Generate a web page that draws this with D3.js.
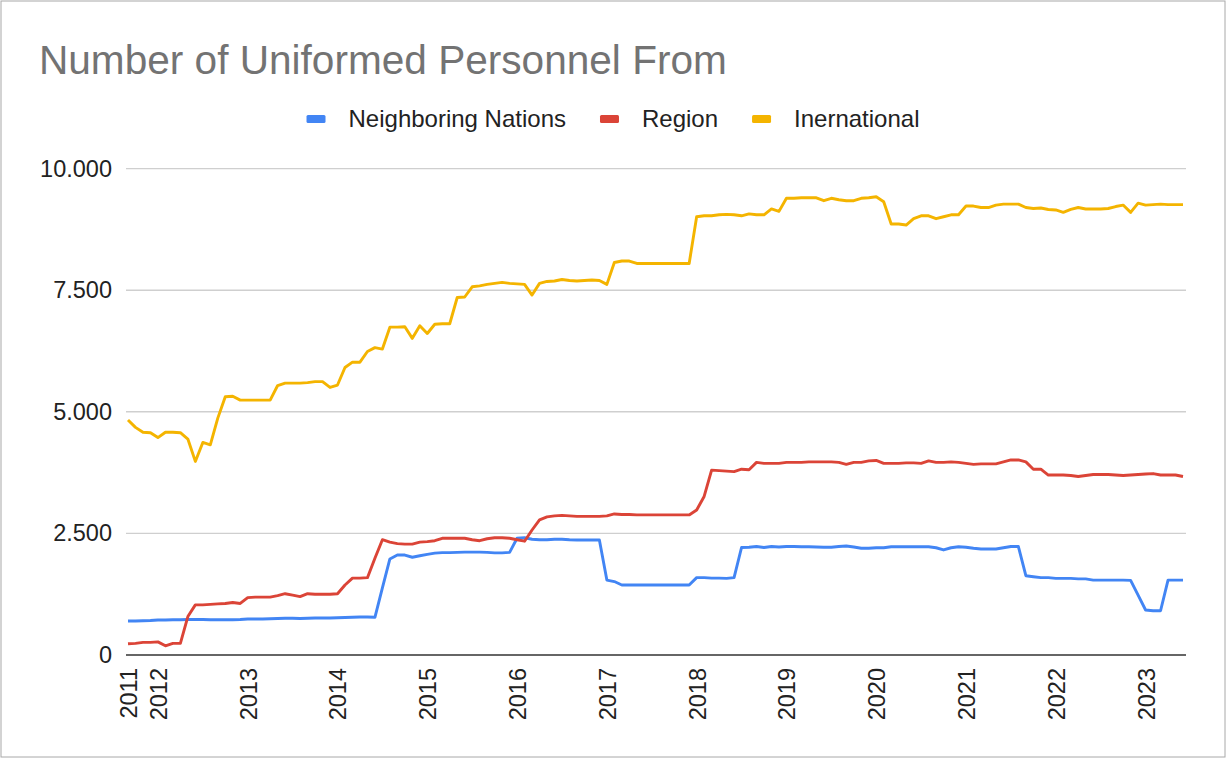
<!DOCTYPE html>
<html>
<head>
<meta charset="utf-8">
<script src="https://cdn.jsdelivr.net/npm/d3@7"></script>
<style>
  body { margin: 0; background: #fff; }
  text { font-family: "Liberation Sans", Arial, sans-serif; }
</style>
</head>
<body>
<div id="container"></div>
<script>
// monthly observations, Sep 2011 .. Jun 2023
const months = d3.timeMonth.range(new Date(2011, 8, 1), new Date(2023, 6, 1)).map(d3.timeFormat("%Y-%m"))

const seriesNames = ["Neighboring Nations", "Region", "Inernational"]
const seriesColors = ["#4285f4", "#db4437", "#f4b400"]

const neighboring = [
  700, 700, 705, 710, 720, 720, 725, 725, 730, 730, 730, 725, 725, 725, 725, 730,
  740, 740, 740, 745, 750, 755, 755, 750, 755, 760, 760, 760, 765, 770, 775, 780,
  780, 775, 1380, 1975, 2055, 2055, 2010, 2040, 2070, 2095, 2105, 2105, 2110, 2115, 2115, 2115,
  2110, 2100, 2100, 2110, 2400, 2410, 2380, 2370, 2370, 2380, 2380, 2370, 2365, 2365, 2365, 2365,
  1540, 1510, 1440, 1440, 1440, 1440, 1440, 1440, 1440, 1440, 1440, 1440, 1590, 1590, 1580, 1580,
  1575, 1590, 2210, 2215, 2230, 2210, 2230, 2220, 2230, 2230, 2225, 2225, 2220, 2215, 2215, 2230,
  2240, 2220, 2195, 2195, 2205, 2205, 2225, 2225, 2225, 2225, 2225, 2225, 2205, 2160, 2205, 2225,
  2215, 2195, 2180, 2180, 2180, 2205, 2230, 2230, 1630, 1610, 1590, 1590, 1575, 1575, 1575, 1565,
  1565, 1540, 1540, 1540, 1540, 1540, 1535, 1230, 925, 910, 910, 1540, 1540, 1540
]

const region = [
  230, 240, 260, 260, 270, 190, 240, 240, 790, 1030, 1030, 1040, 1050, 1060, 1080, 1060,
  1180, 1190, 1190, 1190, 1220, 1260, 1230, 1200, 1260, 1250, 1250, 1250, 1260, 1440, 1580, 1580,
  1590, 1990, 2370, 2320, 2290, 2280, 2280, 2320, 2330, 2350, 2400, 2400, 2400, 2400, 2370, 2350,
  2390, 2410, 2410, 2400, 2370, 2340, 2570, 2780, 2840, 2860, 2870, 2860, 2850, 2850, 2850, 2850,
  2860, 2900, 2890, 2890, 2880, 2880, 2880, 2880, 2880, 2880, 2880, 2880, 2980, 3260, 3800, 3790,
  3780, 3770, 3820, 3810, 3960, 3940, 3940, 3940, 3960, 3960, 3960, 3970, 3970, 3970, 3970, 3960,
  3920, 3960, 3960, 3990, 4000, 3940, 3940, 3940, 3950, 3950, 3940, 3990, 3960, 3960, 3970, 3960,
  3940, 3920, 3930, 3930, 3930, 3970, 4010, 4010, 3970, 3820, 3820, 3700, 3700, 3700, 3690, 3670,
  3690, 3710, 3710, 3710, 3700, 3690, 3700, 3710, 3720, 3730, 3700, 3700, 3700, 3670
]

const international = [
  4830, 4680, 4580, 4570, 4470, 4580, 4580, 4570, 4440, 3980, 4370, 4320, 4870, 5310, 5320, 5240,
  5240, 5240, 5240, 5240, 5540, 5590, 5590, 5590, 5600, 5620, 5620, 5500, 5550, 5910, 6020, 6020,
  6240, 6320, 6290, 6740, 6740, 6750, 6510, 6770, 6610, 6800, 6810, 6810, 7350, 7360, 7570, 7590,
  7620, 7640, 7660, 7640, 7630, 7620, 7400, 7640, 7680, 7690, 7720, 7700, 7690, 7700, 7710, 7700,
  7620, 8070, 8100, 8100, 8050, 8050, 8050, 8050, 8050, 8050, 8050, 8050, 9010, 9030, 9030, 9050,
  9060, 9050, 9030, 9070, 9050, 9050, 9170, 9120, 9390, 9390, 9400, 9400, 9400, 9340, 9390, 9360,
  9340, 9340, 9390, 9400, 9420, 9320, 8860, 8860, 8840, 8970, 9030, 9030, 8970, 9010, 9050, 9050,
  9230, 9230, 9200, 9200, 9250, 9270, 9270, 9270, 9200, 9180, 9190, 9160, 9150, 9100, 9160, 9200,
  9170, 9170, 9170, 9180, 9220, 9250, 9100, 9290, 9250, 9260, 9270, 9260, 9260, 9260
]

const yTicks = [0, 2500, 5000, 7500, 10000]
const xTicks = ["2011-09", "2012-01", "2013-01", "2014-01", "2015-01", "2016-01", "2017-01",
  "2018-01", "2019-01", "2020-01", "2021-01", "2022-01", "2023-01"]

const width = 1227
const height = 760
const plot = { left: 126, right: 1186, top: 168.6, bottom: 655 }

const fmt = d3.formatLocale({ decimal: ",", thousands: ".", grouping: [3], currency: ["", ""] }).format(",")

const xScale = d3.scalePoint(months, [128, 1183])
const yScale = d3.scaleLinear([0, 10000], [plot.bottom, plot.top])

const svg = d3.select('#container')
  .append('svg')
  .attr('width', width)
  .attr('height', height)
  .attr('viewBox', [0, 0, width, height])

svg.append('rect')
  .attr('x', 1).attr('y', 1)
  .attr('width', 1224).attr('height', 756)
  .attr('fill', '#fff')
  .attr('stroke', '#a8a8a8')

svg.append('text')
  .attr('x', 39)
  .attr('y', 74)
  .attr('font-size', 40.6)
  .attr('fill', '#737373')
  .text('Number of Uniformed Personnel From')

// legend, centered
const legend = svg.append('g')
const items = legend.selectAll('g')
  .data(seriesNames)
  .join('g')
items.append('rect')
  .attr('width', 19).attr('height', 8)
  .attr('y', -4).attr('rx', 1.5)
  .attr('fill', (d, i) => seriesColors[i])
items.append('text')
  .attr('x', 42)
  .attr('dy', '0.35em')
  .attr('font-size', 24)
  .attr('fill', '#222')
  .text(d => d)
let pos = 0
items.each(function () {
  d3.select(this).attr('transform', `translate(${pos},0)`)
  pos += 42 + this.querySelector('text').getComputedTextLength() + 34
})
pos -= 34
legend.attr('transform', `translate(${613 - pos / 2}, 119)`)

// gridlines
svg.append('g')
  .selectAll('line')
  .data(yTicks.filter(d => d > 0))
  .join('line')
  .attr('x1', plot.left).attr('x2', plot.right)
  .attr('y1', d => yScale(d)).attr('y2', d => yScale(d))
  .attr('stroke', '#cfcfcf')
  .attr('stroke-width', 1.4)

svg.append('g')
  .attr('transform', `translate(${plot.left},0)`)
  .call(d3.axisLeft(yScale).tickValues(yTicks).tickFormat(fmt).tickSize(0).tickPadding(14))
  .call(g => g.select('.domain').remove())
  .call(g => g.selectAll('text').attr('font-size', 23.5).attr('fill', '#222').attr('font-family', null))

svg.append('g')
  .attr('transform', `translate(0,${plot.bottom})`)
  .call(d3.axisBottom(xScale).tickValues(xTicks).tickFormat(d => d.slice(0, 4)).tickSize(0))
  .call(g => g.select('.domain').remove())
  .call(g => g.selectAll('text')
    .attr('font-size', 23.5).attr('fill', '#222').attr('font-family', null)
    .attr('transform', 'rotate(-90)')
    .attr('text-anchor', 'end')
    .attr('x', -13).attr('y', 0).attr('dy', '0.36em'))

const line = d3.line()
  .x((d, i) => xScale(months[i]))
  .y(d => yScale(d))

svg.append('g')
  .selectAll('path')
  .data([neighboring, region, international])
  .join('path')
  .attr('d', line)
  .attr('fill', 'none')
  .attr('stroke', (d, i) => seriesColors[i])
  .attr('stroke-width', 2.9)
  .attr('stroke-linejoin', 'round')

svg.append('line')
  .attr('x1', plot.left).attr('x2', plot.right)
  .attr('y1', plot.bottom).attr('y2', plot.bottom)
  .attr('stroke', '#333')
  .attr('stroke-width', 1.6)
</script>
</body>
</html>
